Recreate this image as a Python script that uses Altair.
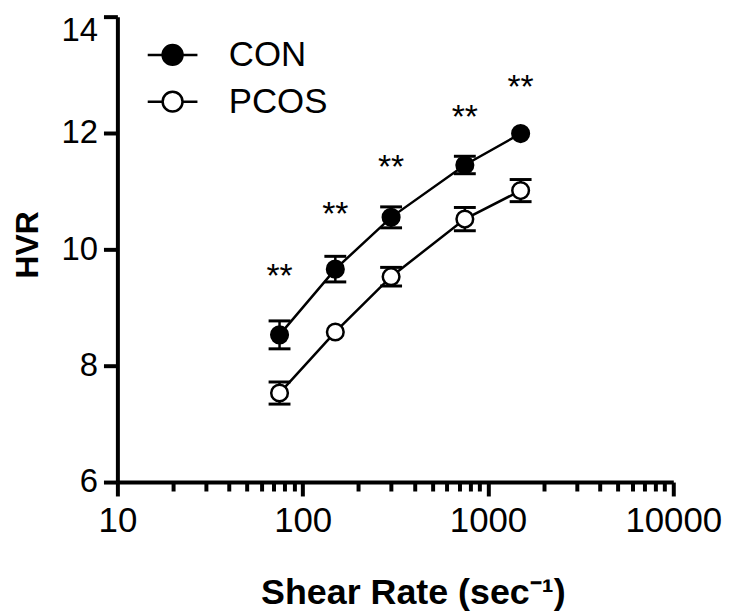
import altair as alt
import pandas as pd

FONT = "Liberation Sans"

# ---- data ----
shear_rate = [75, 150, 300, 750, 1500]
groups = ["CON", "PCOS"]
con_mean = [8.53, 9.66, 10.55, 11.45, 11.99]
con_sem = [0.24, 0.22, 0.18, 0.15, 0.0]
pcos_mean = [7.53, 8.58, 9.53, 10.52, 11.01]
pcos_sem = [0.19, 0.0, 0.16, 0.20, 0.19]
star_y = [9.61, 10.68, 11.49, 12.34, 12.85]
star_text = ["**", "**", "**", "**", "**"]

x_major = [10, 100, 1000, 10000]
x_minor = [20, 30, 40, 50, 60, 70, 80, 90,
           200, 300, 400, 500, 600, 700, 800, 900,
           2000, 3000, 4000, 5000, 6000, 7000, 8000, 9000]
y_ticks = [6, 8, 10, 12, 14]

rows = []
for g, means, sems in [("CON", con_mean, con_sem), ("PCOS", pcos_mean, pcos_sem)]:
    for x, m, s in zip(shear_rate, means, sems):
        rows.append({"group": g, "x": x, "mean": m, "sem": s, "lo": m - s, "hi": m + s})
df = pd.DataFrame(rows)
stars = pd.DataFrame({"x": shear_rate, "y": star_y, "label": star_text})

xscale = alt.Scale(type="log", domain=[10, 10000], nice=False)
yscale = alt.Scale(domain=[6, 14], nice=False, zero=False)

x_axis = alt.Axis(values=x_major, format="d", tickSize=14, tickWidth=4, domainWidth=4,
                  labelFontSize=35, labelPadding=8, labelFont=FONT, orient="bottom",
                  labelFlush=False, labelOverlap=False,
                  title="Shear Rate (sec⁻¹)", titleFontSize=36, titleFontWeight="bold",
                  titleX=144, titleY=122, titleAlign="left", titleBaseline="alphabetic",
                  grid=False)
x_minor_axis = alt.Axis(values=x_minor, labels=False, domain=False, tickSize=9, tickWidth=4,
                        title=None, grid=False, orient="bottom")
y_axis = alt.Axis(values=y_ticks, format="d", tickSize=14, tickWidth=4, domainWidth=4,
                  orient="left", labelFontSize=33, labelPadding=6, labelFont=FONT,
                  labelFlush=False,
                  labelOffset=alt.ConditionalAxisNumber(
                      condition={"test": "datum.value == 14", "value": 13.5}, value=0),
                  title="HVR", titleFontSize=32, titleFontWeight="bold", titleAngle=270,
                  titleX=-80, titleY=229, titleAlign="center", titleBaseline="alphabetic",
                  grid=False)

base = alt.Chart(df)

lines = base.mark_line(color="black", strokeWidth=2.5).encode(
    x=alt.X("x:Q", scale=xscale, axis=x_axis),
    y=alt.Y("mean:Q", scale=yscale, axis=y_axis),
    detail="group:N",
)

err = base.transform_filter("datum.sem > 0").mark_rule(color="black", strokeWidth=2.5).encode(
    x=alt.X("x:Q", scale=xscale, axis=None),
    y=alt.Y("lo:Q", scale=yscale),
    y2="hi:Q",
)

caps = base.transform_filter("datum.sem > 0").transform_fold(
    ["lo", "hi"], as_=["end", "val"]
).mark_tick(color="black", orient="horizontal", size=22, thickness=3, opacity=1).encode(
    x=alt.X("x:Q", scale=xscale, axis=None),
    y=alt.Y("val:Q", scale=yscale),
)

legend_symbol = "M-1,0H-0.4M0.4,0H1M0.4,0A0.4,0.4,0,1,1,-0.4,0A0.4,0.4,0,1,1,0.4,0Z"

points = base.mark_point(shape="circle", size=280, filled=True, stroke="black",
                         strokeWidth=2.5, opacity=1).encode(
    x=alt.X("x:Q", scale=xscale, axis=None),
    y=alt.Y("mean:Q", scale=yscale),
    fill=alt.Fill("group:N", scale=alt.Scale(domain=groups, range=["black", "white"]),
                  legend=alt.Legend(title=None, orient="none", legendX=29, legendY=12,
                                    symbolType=legend_symbol, symbolSize=2500,
                                    symbolStrokeColor="black", symbolStrokeWidth=2.5,
                                    labelFontSize=35, labelFont=FONT, labelColor="black",
                                    labelOffset=30, rowPadding=2, padding=0)),
)

star_layer = alt.Chart(stars).mark_text(font=FONT, fontSize=34, baseline="alphabetic",
                                        dy=15, color="black").encode(
    x=alt.X("x:Q", scale=xscale, axis=x_minor_axis),
    y=alt.Y("y:Q", scale=yscale),
    text="label:N",
)

chart = alt.layer(lines, err, caps, points, star_layer).resolve_axis(
    x="independent"
).properties(
    width=559, height=468,
    autosize=alt.AutoSizeParams(type="none"),
    padding={"left": 110, "top": 7, "right": 52, "bottom": 133},
).configure_view(stroke=None).configure_axis(
    domainColor="black", tickColor="black", labelColor="black", titleColor="black",
    titleFont=FONT, labelFont=FONT,
)

chart.save("out.html", embed_options={"renderer": "svg", "actions": False})
